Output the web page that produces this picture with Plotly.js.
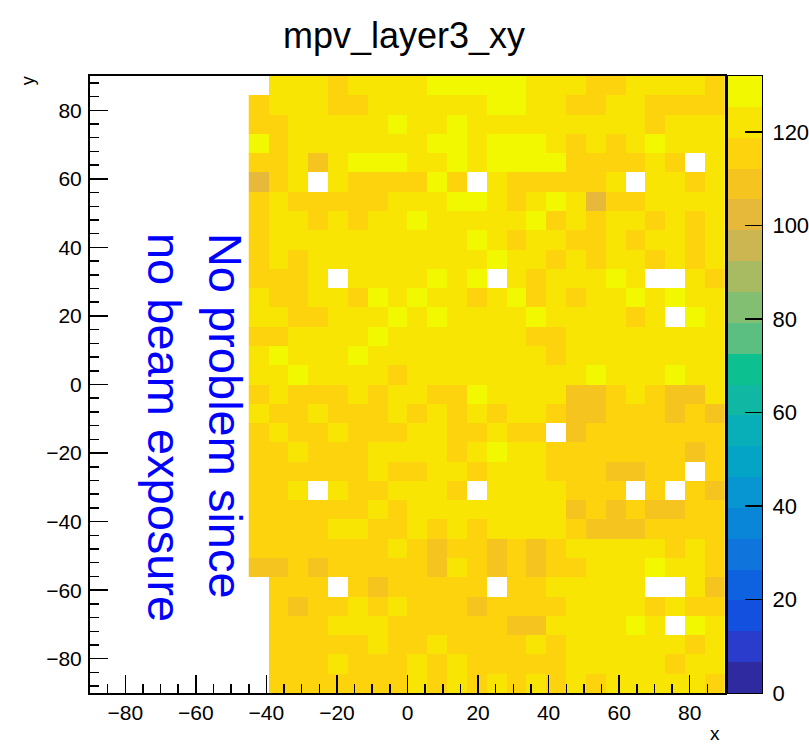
<!DOCTYPE html>
<html>
<head>
<meta charset="utf-8">
<script src="https://cdn.plot.ly/plotly-3.0.1.min.js"></script>
<style>
  html, body { margin: 0; padding: 0; background: #fff; }
  #chart { width: 809px; height: 745px; }
</style>
</head>
<body>
<div id="chart"></div>
<script>
// Bin centres (32 bins of width 5.625 over [-90, 90]); data present from bin 8 on in x
const xCenters = [-42.1875, -36.5625, -30.9375, -25.3125, -19.6875, -14.0625, -8.4375, -2.8125,
  2.8125, 8.4375, 14.0625, 19.6875, 25.3125, 30.9375, 36.5625, 42.1875,
  47.8125, 53.4375, 59.0625, 64.6875, 70.3125, 75.9375, 81.5625, 87.1875];
const yCenters = [-87.1875, -81.5625, -75.9375, -70.3125, -64.6875, -59.0625, -53.4375, -47.8125,
  -42.1875, -36.5625, -30.9375, -25.3125, -19.6875, -14.0625, -8.4375, -2.8125,
  2.8125, 8.4375, 14.0625, 19.6875, 25.3125, 30.9375, 36.5625, 42.1875,
  47.8125, 53.4375, 59.0625, 64.6875, 70.3125, 75.9375, 81.5625, 87.1875];

// MPV values per cell, rows from bottom (y=-87) to top (y=+87); null = empty bin
const mpvRows = [
  [null,115,115,115,115,115,115,115,122,115,122,115,122,115,122,115,122,115,122,122,122,122,122,115],
  [null,115,115,115,122,115,115,115,122,115,122,115,115,115,115,115,122,122,122,122,122,115,122,122],
  [null,115,115,115,115,115,122,115,115,122,115,115,115,115,122,115,122,122,122,122,122,122,115,122],
  [null,115,115,115,122,122,122,115,115,115,115,115,115,109,109,122,122,122,122,128,122,null,128,122],
  [null,115,109,115,115,122,115,122,115,115,115,109,115,115,115,115,122,122,122,122,115,122,115,115],
  [null,115,115,115,null,115,109,115,115,115,115,115,null,115,115,122,122,122,122,122,null,null,122,109],
  [109,109,115,109,115,115,115,115,115,109,122,115,109,115,109,115,115,122,122,122,128,122,122,115],
  [115,115,115,115,115,115,115,122,115,109,115,115,109,115,109,115,122,122,122,122,122,115,122,115],
  [115,115,115,115,122,122,115,115,122,115,122,115,122,122,122,122,115,109,109,109,115,115,115,115],
  [115,115,115,115,115,115,122,115,122,122,122,122,122,122,122,122,109,115,109,115,109,109,115,115],
  [115,115,122,null,122,115,115,122,122,122,115,null,122,122,122,122,115,115,115,null,115,null,115,109],
  [115,115,115,115,115,115,122,115,115,122,122,115,122,122,122,115,115,115,109,109,115,115,null,115],
  [115,115,122,115,115,115,122,122,122,122,115,122,128,122,122,115,115,115,115,115,115,115,109,115],
  [115,122,115,115,122,115,115,115,122,122,115,115,122,115,115,null,109,115,115,115,115,115,115,115],
  [122,115,115,122,115,115,115,122,115,122,115,122,115,122,122,115,109,109,115,115,115,109,115,109],
  [115,122,115,115,115,122,115,122,122,115,115,128,122,122,122,122,109,109,115,122,115,109,109,122],
  [122,122,128,122,122,122,122,115,122,122,122,122,122,122,122,122,122,128,122,122,122,128,122,122],
  [122,128,122,122,122,128,122,122,122,122,122,122,122,122,122,115,122,122,122,122,122,122,122,122],
  [115,115,122,122,122,122,128,122,122,122,122,122,122,122,115,115,122,122,122,122,122,122,122,122],
  [122,122,115,115,122,122,122,128,122,128,122,122,122,122,128,122,122,122,122,115,122,null,128,122],
  [122,115,115,122,122,115,128,122,128,122,122,115,122,128,115,122,115,122,122,128,122,128,122,122],
  [115,115,115,122,null,122,122,122,122,128,122,128,null,122,115,122,122,122,128,122,null,null,122,115],
  [115,122,115,122,122,122,122,122,122,122,122,122,128,122,122,115,122,115,122,122,115,122,115,122],
  [115,122,122,122,122,122,122,122,122,122,122,128,122,115,122,122,115,115,122,115,122,122,115,122],
  [115,122,122,115,122,115,122,122,128,122,122,122,122,122,128,115,122,115,122,122,115,122,115,122],
  [115,122,115,115,115,115,115,122,122,122,128,128,122,115,122,128,122,102,115,115,122,122,122,122],
  [102,115,122,null,122,115,115,115,115,128,115,null,122,115,115,115,115,115,122,null,122,122,115,122],
  [115,115,122,109,122,128,128,128,122,122,128,122,128,128,128,128,115,115,115,115,122,115,null,122],
  [128,115,122,122,122,122,122,122,122,128,128,122,128,128,128,122,115,122,115,122,128,122,122,122],
  [115,115,122,122,122,122,122,128,122,122,128,122,122,122,122,122,122,122,122,122,115,122,122,122],
  [115,122,122,122,115,115,122,122,122,122,122,122,128,128,122,122,115,115,122,122,115,115,115,115],
  [null,122,122,122,115,122,122,122,122,128,128,128,128,128,122,122,122,115,115,122,122,122,122,115]
];

const zMin = 0;
const zMax = 132;
const colorTicks = [0, 20, 40, 60, 80, 100, 120];
// centres of the 20 contour levels shown in the colour scale bar
const scaleLevels = [3.3, 9.9, 16.5, 23.1, 29.7, 36.3, 42.9, 49.5, 56.1, 62.7,
  69.3, 75.9, 82.5, 89.1, 95.7, 102.3, 108.9, 115.5, 122.1, 128.7];

// 20 contour bands of a ROOT kBird-like palette
const bandColors = ['#302aa0','#2a3ccc','#1450e0','#0e62e0','#0f74dc','#0a86d8','#0896d2','#04a4c6',
  '#08afb8','#10b8a4','#0cc090','#5abf80','#82bf72','#a9bb62','#ccb652','#e6b93a',
  '#f6c41e','#fdd30e','#f9e504','#f2f800'];
const colorscale = [];
bandColors.forEach((c, i) => {
  colorscale.push([i / bandColors.length, c]);
  colorscale.push([(i + 1) / bandColors.length, c]);
});

const FONT = 'Liberation Sans, Arial, Helvetica, sans-serif';

const heat = {
  type: 'heatmap',
  x: xCenters, y: yCenters, z: mpvRows,
  zmin: zMin, zmax: zMax, zsmooth: false,
  colorscale: colorscale, showscale: false,
  hoverinfo: 'skip'
};

// colour scale bar, drawn as a one-column heatmap on its own axes
const scaleBar = {
  type: 'heatmap',
  x: [0], y: scaleLevels, z: scaleLevels.map(v => [v]),
  xaxis: 'x2', yaxis: 'y2',
  zmin: zMin, zmax: zMax, zsmooth: false,
  colorscale: colorscale, showscale: false,
  hoverinfo: 'skip'
};

const axisCommon = {
  range: [-90, 90],
  tickmode: 'linear', tick0: 0, dtick: 20,
  ticks: 'inside', ticklen: 18, tickwidth: 1.5, tickcolor: '#000',
  showline: true, mirror: true, linecolor: '#000', linewidth: 2,
  showgrid: false, zeroline: false,
  tickfont: { family: FONT, size: 21, color: '#000' },
  fixedrange: true
};

const layout = {
  width: 809, height: 745,
  margin: { l: 90, r: 47, t: 76, b: 52, autoexpand: false },
  paper_bgcolor: '#fff', plot_bgcolor: '#fff',
  font: { family: FONT, color: '#000' },
  showlegend: false,
  title: {
    text: 'mpv_layer3_xy',
    x: 0.4994, xanchor: 'center', xref: 'container',
    y: 0.953, yanchor: 'middle', yref: 'container',
    font: { family: FONT, size: 36, color: '#000' }
  },
  xaxis: Object.assign({}, axisCommon, {
    domain: [0, 0.94494], anchor: 'y',
    ticklabelstandoff: 0,
    minor: { dtick: 5, tick0: 0, ticks: 'inside', ticklen: 9, tickwidth: 1.5, tickcolor: '#000' }
  }),
  yaxis: Object.assign({}, axisCommon, {
    anchor: 'x',
    ticklabelstandoff: 2,
    minor: { dtick: 4, tick0: 0, ticks: 'inside', ticklen: 9, tickwidth: 1.5, tickcolor: '#000' }
  }),
  xaxis2: {
    domain: [0.9494, 1], anchor: 'y2', range: [-0.5, 0.5],
    showticklabels: false, ticks: '', showgrid: false, zeroline: false,
    showline: true, mirror: true, linecolor: '#000', linewidth: 1,
    fixedrange: true
  },
  yaxis2: {
    domain: [0, 1], anchor: 'x2', side: 'right',
    range: [zMin, zMax],
    tickmode: 'array', tickvals: colorTicks, ticktext: colorTicks.map(String),
    ticks: 'inside', ticklen: 17, tickwidth: 1.5, tickcolor: '#000',
    showline: true, mirror: true, linecolor: '#000', linewidth: 1,
    showgrid: false, zeroline: false,
    tickfont: { family: FONT, size: 22, color: '#000' },
    ticklabelstandoff: 5,
    fixedrange: true
  },
  annotations: [
    {
      text: 'No problem since<br>no beam exposure',
      xref: 'x', yref: 'y', x: -60.4, y: -12.5,
      xanchor: 'center', yanchor: 'middle', align: 'left',
      textangle: 90, showarrow: false,
      font: { family: FONT, size: 47, color: '#0000ff' }
    },
    {
      text: 'x', xref: 'paper', yref: 'paper', x: 0.930, y: -0.066,
      xanchor: 'center', yanchor: 'middle', showarrow: false,
      font: { family: FONT, size: 19, color: '#000' }
    },
    {
      text: 'y', xref: 'paper', yref: 'paper', x: -0.0923, y: 0.993,
      xanchor: 'center', yanchor: 'middle', showarrow: false, textangle: -90,
      font: { family: FONT, size: 18, color: '#000' }
    }
  ]
};

Plotly.newPlot('chart', [heat, scaleBar], layout, { staticPlot: true, displayModeBar: false });
</script>
</body>
</html>
